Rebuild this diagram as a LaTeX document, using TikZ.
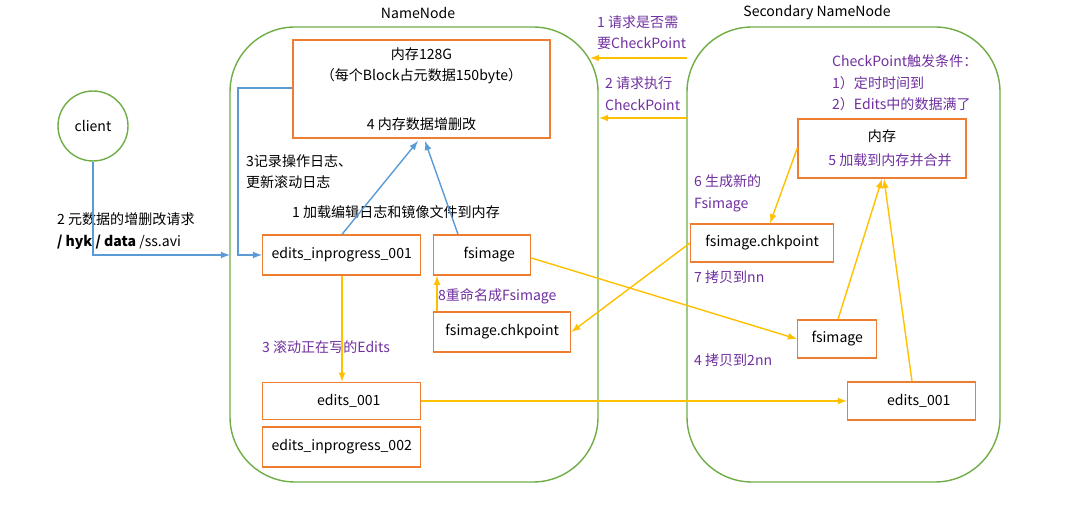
\documentclass[tikz,border=0pt]{standalone}
\usepackage{fontspec}
\setmainfont{Liberation Sans}
\newfontfamily\cjk{Noto Sans CJK SC}
\usetikzlibrary{positioning, calc}
\definecolor{grn}{RGB}{112,173,71}
\definecolor{org}{RGB}{237,125,49}
\definecolor{ylw}{RGB}{255,192,0}
\definecolor{blu}{RGB}{91,155,213}
\definecolor{prp}{RGB}{112,48,160}
\tikzset{
  box/.style={draw=org, thick, minimum height=0.8cm, inner sep=2pt},
  host/.style={draw=grn, thick, rounded corners=1.3cm},
  txt/.style={font=\cjk\fontsize{8}{12}\selectfont, align=left, inner sep=1pt},
  ptxt/.style={txt, text=prp},
  yarr/.style={ylw, thick, -latex},
  barr/.style={blu, thick, -latex},
}
\begin{document}
\begin{tikzpicture}[x=0.02cm, y=-0.02cm]
\useasboundingbox (0,0) rectangle (1067,509);
% hosts
\draw[host] (230,27) rectangle (598,482);
\draw[host] (687,27) rectangle (1000,482);
\node[txt] (nnlbl) at (418,13) {NameNode};
\node[txt] (snnlbl) at (817,13) {Secondary NameNode};
\node[draw=grn, thick, circle, minimum size=1.4cm, txt] (client) at (93,126) {client};
% NameNode boxes
\node[box, minimum width=5.14cm, minimum height=1.96cm] (mem) at (421.5,89) {};
\node[txt, align=center] (memtxt) at (421.5,66) {内存128G\\（每个Block占元数据150byte）};
\node[txt] (memop) at (421.5,124) {4 内存数据增删改};
\node[box, txt, minimum width=3.16cm, anchor=west] (eip1) at (262,255) {edits\_inprogress\_001};
\node[box, txt, minimum width=1.94cm, anchor=west] (fsi) at (433,255) {\quad fsimage\hfill};
\node[box, txt, minimum width=2.74cm, anchor=west] (chk) at (433,332) {fsimage.chkpoint};
\node[box, txt, minimum width=3.16cm, minimum height=0.74cm, anchor=west] (e001) at (262,401) {\quad edits\_001\hfill};
\node[box, txt, minimum width=3.16cm, anchor=west] (eip2) at (262,447) {edits\_inprogress\_002};
% Secondary boxes
\node[box, minimum width=3.36cm, minimum height=1.18cm] (smem) at (882,148.5) {};
\node[txt] (smemt) at (882,136) {内存};
\node[ptxt] (smemop) at (890,160) {5 加载到内存并合并};
\node[box, txt, minimum width=2.86cm, minimum height=0.76cm, anchor=west] (schk) at (690,243) {fsimage.chkpoint};
\node[box, txt, minimum width=1.58cm, minimum height=0.76cm, anchor=west] (sfsi) at (797,339) {fsimage};
\node[box, txt, minimum width=2.56cm, minimum height=0.76cm, anchor=west] (se001) at (847,401) {\quad edits\_001\hfill};
% labels
\node[txt, anchor=north west] (lbl2) at (55,211) {2 元数据的增删改请求\\\textbf{/ hyk / data} /ss.avi};
\node[txt, anchor=north west] (lbl3) at (244,153) {3记录操作日志、\\更新滚动日志};
\node[txt, anchor=west] (lbl1) at (290,212) {1 加载编辑日志和镜像文件到内存};
\node[ptxt, anchor=west] (lblr) at (260,347) {3 滚动正在写的Edits};
\node[ptxt, anchor=west] (lbl8) at (436,296) {8重命名成Fsimage};
\node[ptxt, anchor=north west] (lblq1) at (595,14) {1 请求是否需\\要CheckPoint};
\node[ptxt, anchor=north west] (lblq2) at (603,75) {2 请求执行\\CheckPoint};
\node[ptxt, anchor=north west] (lblcp) at (830,53) {CheckPoint触发条件：\\1）定时时间到\\2）Edits中的数据满了};
\node[ptxt, anchor=north west] (lbl6) at (692,173) {6 生成新的\\Fsimage};
\node[ptxt, anchor=west] (lbl7) at (692,277) {7 拷贝到nn};
\node[ptxt, anchor=west] (lbl4) at (692,360) {4 拷贝到2nn};
% blue arrows
\coordinate (nnin) at (230,255);
\draw[barr] (client.south) |- (nnin);
\draw[barr] (mem.west |- 0,88) -| (238,255) -- (eip1.west);
\draw[barr] (eip1.north -| 342,0) -- (418,141);
\draw[barr] (fsi.north -| 458,0) -- (425,141);
% yellow arrows
\coordinate (q1) at (590,58);
\coordinate (q2) at (599,118);
\draw[yarr] (687,58) -- (q1);
\draw[yarr] (687,118) -- (q2);
\draw[yarr] (eip1.south -| 342,0) -- (e001.north -| 342,0);
\draw[yarr] (e001.east) -- (se001.west);
\draw[yarr] (fsi.east |- 0,258) -- (sfsi.west);
\draw[yarr] (schk.west) -- (chk.east);
\draw[yarr] (chk.north -| 437,0) -- (fsi.south -| 437,0);
\draw[yarr] (sfsi.north -| 838,0) -- (882,179);
\draw[yarr] (se001.north -| 912,0) -- (884,179);
\draw[yarr] (smem.west |- 0,148) -- (schk.north -| 770,0);
\end{tikzpicture}
\end{document}
